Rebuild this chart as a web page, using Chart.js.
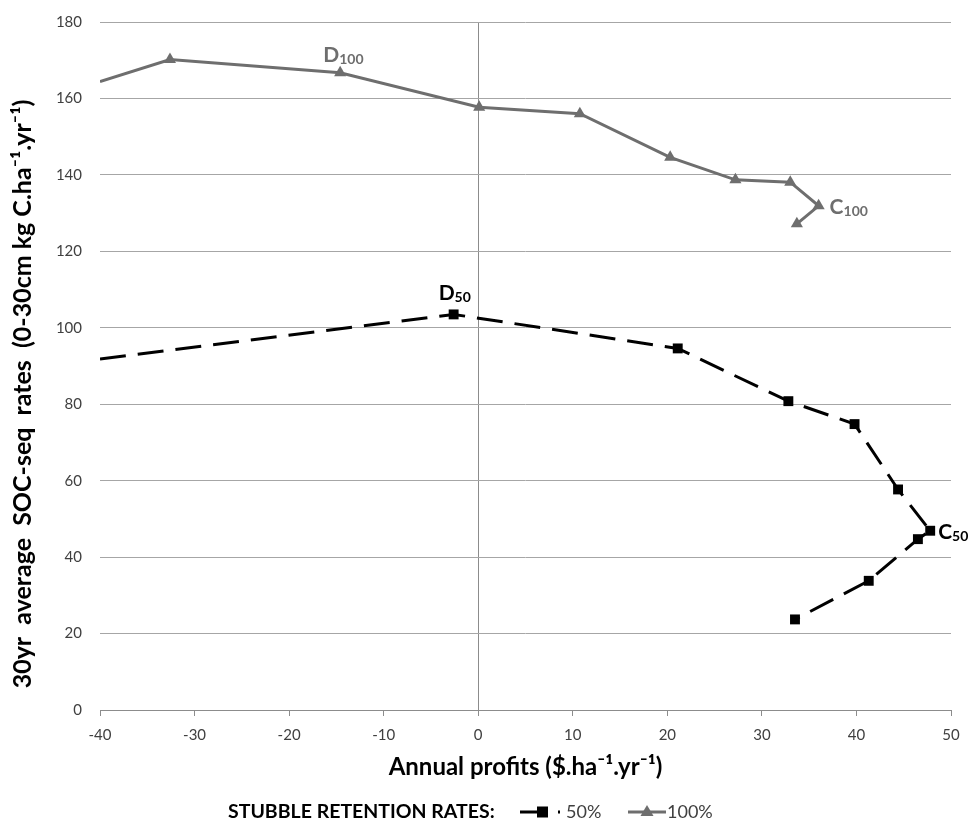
<!DOCTYPE html>
<html><head><meta charset="utf-8">
<script src="https://cdn.jsdelivr.net/npm/chart.js@4/dist/chart.umd.min.js"></script>
<style>html,body{margin:0;padding:0;background:#fff;}#wrap{width:976px;height:831px;}</style>
</head><body><div id="wrap"><canvas id="c" width="976" height="831"></canvas></div>
<script>
// ---- data ----
const seriesLabels = ['50%', '100%'];
const profits50 = [-40, -2.6, 21.1, 32.8, 39.8, 44.4, 47.8, 46.5, 41.3, 33.5];
const soc50     = [91.8, 103.5, 94.6, 80.8, 74.8, 57.7, 46.9, 44.7, 33.8, 23.7];
const profits100 = [-40, -32.6, -14.6, 0.1, 10.75, 20.3, 27.2, 33.0, 36.0, 33.7];
const soc100     = [164.4, 170.2, 166.7, 157.7, 156.0, 144.6, 138.7, 138.1, 131.9, 127.2];
const xTickValues = [-40, -30, -20, -10, 0, 10, 20, 30, 40, 50];
const yTickValues = [0, 20, 40, 60, 80, 100, 120, 140, 160, 180];
const xTitle = 'Annual profits ($.ha\u207B\u00B9.yr\u207B\u00B9)';
const yTitle = '30yr  average  SOC-seq  rates  (0-30cm kg C.ha\u207B\u00B9.yr\u207B\u00B9)';
const legendTitle = 'STUBBLE RETENTION RATES:';
const pointTags = [
  {series: 1, index: 2, main: 'D', sub: '100'},
  {series: 1, index: 8, main: 'C', sub: '100'},
  {series: 0, index: 1, main: 'D', sub: '50'},
  {series: 0, index: 6, main: 'C', sub: '50'}
];

const toPts = (xs, ys) => xs.map((x, i) => ({x: x, y: ys[i]}));
const FONT = 'Lato, "Open Sans", sans-serif';
const GREY = '#6e6e6e';
const GRID = '#a6a6a6';

// offsets of the tag texts relative to their marker (styling)
const tagStyle = [
  {dx: -17, dy: -11, color: GREY},
  {dx: 11, dy: 8, color: GREY},
  {dx: -15, dy: -14, color: '#000'},
  {dx: 8, dy: 8, color: '#000'}
];

const tagsPlugin = {
  id: 'tags',
  afterDatasetsDraw(chart) {
    const ctx = chart.ctx;
    pointTags.forEach((t, k) => {
      const el = chart.getDatasetMeta(t.series).data[t.index];
      const s = tagStyle[k];
      ctx.save();
      ctx.fillStyle = s.color;
      ctx.textBaseline = 'alphabetic';
      ctx.textAlign = 'left';
      ctx.font = 'bold 21px ' + FONT;
      const x = el.x + s.dx, y = el.y + s.dy;
      ctx.fillText(t.main, x, y);
      const w = ctx.measureText(t.main).width;
      ctx.font = 'bold 14px ' + FONT;
      ctx.fillText(t.sub, x + w, y + 2);
      ctx.restore();
    });
  }
};

const yTitlePlugin = {
  id: 'yTitle',
  afterDraw(chart) {
    const ctx = chart.ctx;
    ctx.save();
    ctx.translate(23, 394);
    ctx.rotate(-Math.PI / 2);
    ctx.textAlign = 'center';
    ctx.textBaseline = 'middle';
    ctx.fillStyle = '#000';
    ctx.font = 'bold 25px ' + FONT;
    ctx.fillText(yTitle, 0, 0);
    ctx.restore();
  }
};

const legendPlugin = {
  id: 'customLegend',
  afterDraw(chart) {
    const ctx = chart.ctx;
    const ds = chart.data.datasets;
    const y = 812;
    ctx.save();
    ctx.textBaseline = 'middle';
    ctx.fillStyle = '#000';
    ctx.font = 'bold 19.5px ' + FONT;
    ctx.textAlign = 'left';
    ctx.fillText(legendTitle, 228, y);
    // 50% sample
    ctx.strokeStyle = ds[0].borderColor;
    ctx.lineWidth = ds[0].borderWidth;
    ctx.setLineDash(ds[0].borderDash);
    ctx.beginPath(); ctx.moveTo(520, y); ctx.lineTo(560, y); ctx.stroke();
    ctx.setLineDash([]);
    ctx.fillStyle = ds[0].pointBackgroundColor;
    ctx.fillRect(537, y - 5.5, 11, 11);
    ctx.fillStyle = '#404040';
    ctx.font = '18px ' + FONT;
    ctx.fillText(ds[0].label, 566, y);
    // 100% sample
    ctx.strokeStyle = ds[1].borderColor;
    ctx.lineWidth = ds[1].borderWidth;
    ctx.beginPath(); ctx.moveTo(628, y); ctx.lineTo(666, y); ctx.stroke();
    ctx.fillStyle = ds[1].pointBackgroundColor;
    ctx.beginPath(); ctx.moveTo(647, y - 7); ctx.lineTo(653.5, y + 4); ctx.lineTo(640.5, y + 4); ctx.closePath(); ctx.fill();
    ctx.fillStyle = '#404040';
    ctx.fillText(ds[1].label, 667, y);
    ctx.restore();
  }
};

new Chart(document.getElementById('c'), {
  type: 'scatter',
  data: {
    datasets: [
      {
        label: seriesLabels[0],
        data: toPts(profits50, soc50),
        showLine: true,
        borderColor: '#000',
        backgroundColor: '#000',
        pointBackgroundColor: '#000',
        pointBorderColor: '#000',
        borderWidth: 3,
        borderDash: [26, 12],
        pointStyle: 'rect',
        pointRadius: profits50.map((v, i) => i === 0 ? 0 : 7),
        pointBorderWidth: 0,
        tension: 0
      },
      {
        label: seriesLabels[1],
        data: toPts(profits100, soc100),
        showLine: true,
        borderColor: GREY,
        backgroundColor: GREY,
        pointBackgroundColor: GREY,
        pointBorderColor: GREY,
        borderWidth: 3,
        pointStyle: 'triangle',
        pointRadius: profits100.map((v, i) => i === 0 ? 0 : 7),
        pointBorderWidth: 0,
        tension: 0
      }
    ]
  },
  options: {
    responsive: false,
    animation: false,
    devicePixelRatio: 1,
    layout: {padding: {top: 22, right: 25, left: 0, bottom: 0}},
    plugins: {legend: {display: false}, tooltip: {enabled: false}},
    scales: {
      x: {
        type: 'linear', min: -40, max: 50,
        afterBuildTicks: (s) => { s.ticks = xTickValues.map(v => ({value: v})); },
        afterFit: (s) => { s.height = 121; },
        ticks: {font: {family: FONT, size: 15}, color: '#404040', padding: 10},
        grid: {
          color: (c) => (c.tick && c.tick.value === 0) ? '#8c8c8c' : 'rgba(0,0,0,0)',
          tickColor: '#8c8c8c', tickLength: 6, lineWidth: 1
        },
        border: {display: true, color: '#8c8c8c'},
        title: {display: true, text: xTitle, color: '#000', font: {family: FONT, size: 24, weight: 'bold'}, padding: {top: 0, bottom: 49}}
      },
      y: {
        min: 0, max: 180,
        afterBuildTicks: (s) => { s.ticks = yTickValues.map(v => ({value: v})); },
        afterFit: (s) => { s.width = 100; },
        ticks: {font: {family: FONT, size: 15}, color: '#404040', padding: 4},
        grid: {color: GRID, lineWidth: 1, drawTicks: true, tickLength: 14, tickColor: 'rgba(0,0,0,0)'},
        border: {display: false},
        title: {display: false, text: yTitle}
      }
    }
  },
  plugins: [tagsPlugin, yTitlePlugin, legendPlugin]
});
</script></body></html>
